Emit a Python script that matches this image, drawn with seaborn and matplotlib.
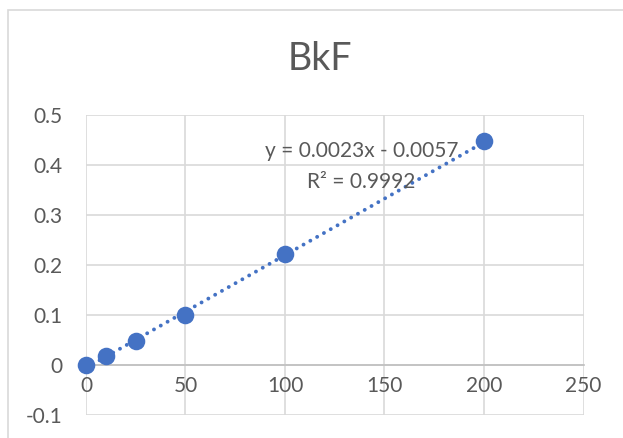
import matplotlib
matplotlib.use("Agg")
import matplotlib.pyplot as plt
import seaborn as sns
import numpy as np
import pandas as pd
from matplotlib.patches import Rectangle

# data
conc = [0, 10, 25, 50, 100, 200]
resp = [0.0, 0.018, 0.047, 0.100, 0.221, 0.447]
eq_text = "y = 0.0023x - 0.0057"
r2_text = "R² = 0.9992"
x_ticks = [0, 50, 100, 150, 200, 250]
y_ticks = [-0.1, 0, 0.1, 0.2, 0.3, 0.4, 0.5]

blue = "#4472C4"
grey_txt = "#595959"
grid_col = "#D9D9D9"

sns.set_style("white")
plt.rcParams['font.family'] = ['Lato', 'DejaVu Sans']

df = pd.DataFrame({"conc": conc, "resp": resp})

fig = plt.figure(figsize=(6.23, 4.38), dpi=100)
ax = fig.add_axes([0.138, 0.0525, 0.7986, 0.685])

# chart border
fig.patches.append(Rectangle((8 / 623, -0.05), 1.2, 1 - 10 / 438 + 0.05,
                             transform=fig.transFigure, fill=False,
                             edgecolor=grid_col, linewidth=1.2))

# linear trendline (round dots)
slope, icpt = np.polyfit(df["conc"], df["resp"], 1)
xl = np.array([min(conc), max(conc)])
ax.plot(xl, slope * xl + icpt, color=blue, linestyle=(0, (0.01, 2.0)),
        linewidth=2.8, dash_capstyle="round", zorder=2)

sns.scatterplot(data=df, x="conc", y="resp", ax=ax, color=blue, s=160,
                edgecolor=blue, linewidth=0, zorder=3, clip_on=False)

ax.set_xlim(0, 250)
ax.set_ylim(-0.1, 0.5)
ax.set_xticks(x_ticks)
ax.set_yticks(y_ticks)
ax.set_xticklabels([str(v) for v in x_ticks])
ax.set_yticklabels(["-0.1", "0", "0.1", "0.2", "0.3", "0.4", "0.5"])
ax.grid(True, color=grid_col, linewidth=1.2)
ax.set_axisbelow(True)
for s in ["top", "right", "left"]:
    ax.spines[s].set_visible(False)
ax.spines["bottom"].set_position(("data", 0))
ax.spines["bottom"].set_color("#BFBFBF")
ax.spines["bottom"].set_linewidth(1.2)
ax.tick_params(axis="both", length=0, labelsize=15, labelcolor=grey_txt)
ax.tick_params(axis="y", pad=17)
ax.tick_params(axis="x", pad=8)
ax.set_xlabel("")
ax.set_ylabel("")

ax.text(138.7, 0.428, eq_text, ha="center", va="center", fontsize=15,
        color=grey_txt)
ax.text(138.5, 0.365, r2_text, ha="center", va="center", fontsize=15,
        color=grey_txt)

fig.text(0.514, 0.866, "BkF", ha="center", va="center", fontsize=27,
         color=grey_txt)

fig.savefig("out.png", dpi=100)
